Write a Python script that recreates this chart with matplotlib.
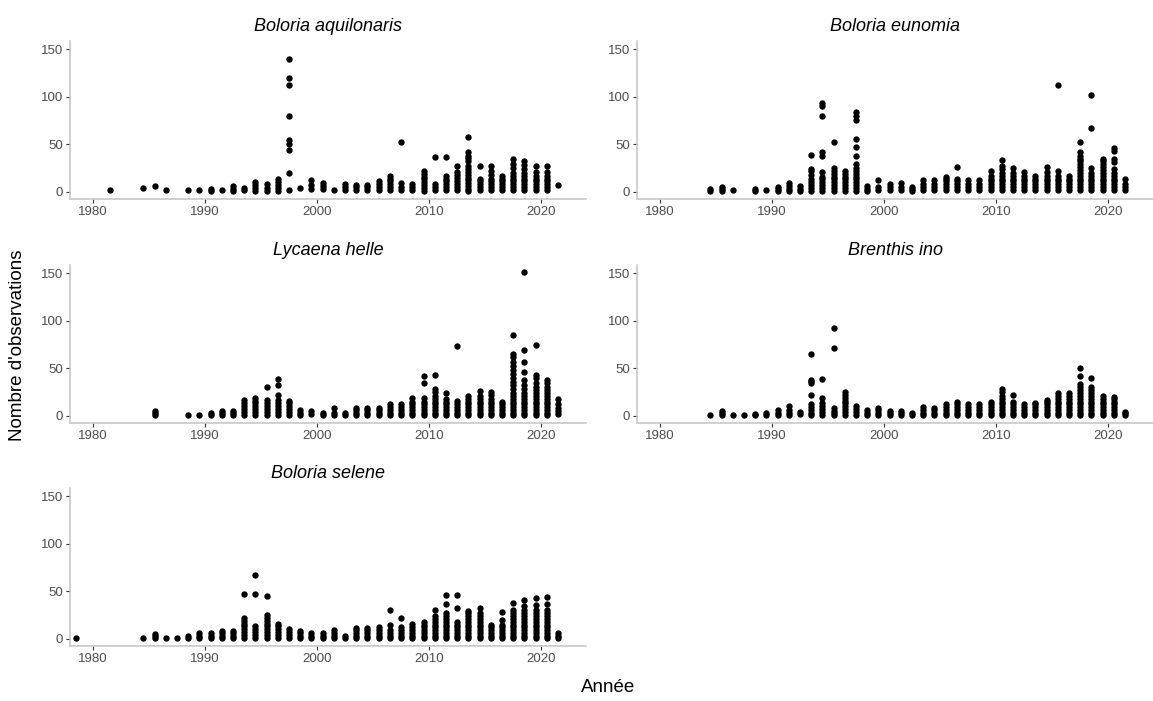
import matplotlib
matplotlib.use("Agg")
import matplotlib.pyplot as plt

plt.rcParams['font.family'] = ['Liberation Sans', 'DejaVu Sans']

# observations par année
aquilonaris = {
    1981: [2], 1984: [4], 1985: [6], 1986: [2], 1988: [2], 1989: [2],
    1990: [1, 3], 1991: [2], 1992: [1, 3, 6], 1993: [2, 4],
    1994: [1, 4, 7, 10], 1995: [1, 4, 8], 1996: [1, 4, 7, 10, 13],
    1997: [2, 20, 44, 50, 55, 80, 112, 120, 140], 1998: [4],
    1999: [3, 7, 12], 2000: [3, 6, 9], 2001: [2], 2002: [2, 5, 8],
    2003: [2, 5, 7], 2004: [2, 5, 7], 2005: [2, 5, 8, 11],
    2006: [2, 5, 8, 11, 14, 17], 2007: [2, 5, 9, 52], 2008: [2, 5, 8],
    2009: [1, 4, 7, 10, 13, 16, 19, 22], 2010: [2, 5, 8, 37],
    2011: [2, 5, 8, 11, 14, 17, 37], 2012: [2, 5, 8, 11, 15, 18, 21, 27],
    2013: [1, 3, 6, 9, 12, 15, 18, 21, 24, 27, 32, 36, 38, 42, 58],
    2014: [2, 5, 8, 11, 13, 27], 2015: [2, 5, 8, 11, 14, 18, 22, 27],
    2016: [2, 5, 8, 11, 14, 17], 2017: [2, 5, 8, 11, 14, 17, 20, 25, 29, 34],
    2018: [2, 5, 8, 11, 14, 17, 20, 24, 28, 32],
    2019: [2, 5, 8, 11, 14, 17, 21, 27], 2020: [2, 5, 8, 11, 14, 17, 21, 27],
    2021: [7],
}

eunomia = {
    1984: [1, 3], 1985: [1, 3, 5], 1986: [2], 1988: [1, 3], 1989: [2],
    1990: [1, 3, 5], 1991: [1, 3, 6, 9], 1992: [1, 3, 6],
    1993: [1, 4, 7, 10, 13, 18, 22, 24, 39],
    1994: [1, 4, 7, 10, 13, 16, 21, 38, 42, 80, 90, 93],
    1995: [1, 4, 7, 10, 13, 16, 19, 22, 25, 52],
    1996: [1, 4, 7, 10, 13, 16, 19, 22],
    1997: [1, 4, 7, 10, 13, 16, 19, 22, 25, 29, 38, 47, 56, 76, 80, 84],
    1998: [1, 3, 6], 1999: [2, 5, 12], 2000: [2, 5, 8], 2001: [2, 5, 9],
    2002: [1, 3, 5], 2003: [2, 5, 8, 12], 2004: [2, 5, 8, 12],
    2005: [2, 5, 8, 11, 14, 16], 2006: [2, 5, 8, 11, 14, 26],
    2007: [2, 5, 8, 12], 2008: [2, 5, 8, 12],
    2009: [2, 5, 8, 11, 14, 17, 22],
    2010: [2, 5, 8, 11, 14, 17, 20, 24, 27, 33],
    2011: [2, 5, 8, 11, 14, 17, 20, 25], 2012: [2, 5, 8, 11, 14, 17, 21],
    2013: [2, 5, 8, 11, 14, 17], 2014: [2, 5, 8, 11, 14, 17, 21, 26],
    2015: [2, 5, 8, 11, 14, 17, 22, 112], 2016: [2, 5, 8, 11, 14, 17],
    2017: [2, 5, 8, 11, 14, 17, 20, 23, 26, 29, 32, 35, 38, 42, 52],
    2018: [2, 5, 8, 11, 14, 17, 20, 25, 67, 102],
    2019: [2, 5, 8, 11, 14, 17, 20, 23, 26, 29, 32, 35],
    2020: [2, 5, 8, 11, 14, 17, 20, 24, 31, 34, 43, 46],
    2021: [2, 5, 8, 13],
}

helle = {
    1985: [1, 3, 5], 1988: [1], 1989: [1], 1990: [1, 3], 1991: [1, 3, 5],
    1992: [1, 3, 5], 1993: [1, 4, 7, 10, 13, 17],
    1994: [1, 4, 7, 10, 13, 16, 19], 1995: [1, 4, 7, 10, 13, 17, 30],
    1996: [1, 4, 7, 10, 13, 17, 22, 32, 39], 1997: [1, 4, 7, 10, 13, 16],
    1998: [1, 3, 6], 1999: [2, 5], 2000: [1, 3], 2001: [1, 3, 8],
    2002: [1, 3], 2003: [1, 3, 6, 8], 2004: [1, 3, 6, 8], 2005: [1, 3, 6, 8],
    2006: [1, 3, 6, 9, 12], 2007: [1, 3, 6, 9, 12],
    2008: [1, 3, 6, 9, 12, 15, 19],
    2009: [1, 3, 6, 9, 12, 15, 19, 34, 42],
    2010: [1, 3, 6, 9, 12, 15, 18, 21, 25, 28, 43],
    2011: [1, 3, 6, 9, 12, 15, 18, 24], 2012: [1, 3, 6, 9, 12, 16, 73],
    2013: [1, 3, 6, 9, 12, 15, 18, 21], 2014: [1, 3, 6, 9, 12, 15, 18, 21, 26],
    2015: [1, 3, 6, 9, 12, 15, 18, 22, 25], 2016: [1, 3, 6, 9, 12, 15],
    2017: [1, 3, 6, 9, 12, 15, 18, 21, 24, 28, 32, 36, 40, 44, 48, 52, 57, 62, 65, 85],
    2018: [1, 3, 6, 9, 12, 15, 18, 21, 24, 28, 32, 38, 46, 57, 69, 151],
    2019: [1, 3, 6, 9, 12, 15, 18, 21, 24, 27, 30, 34, 40, 43, 74],
    2020: [1, 3, 6, 9, 12, 15, 18, 21, 24, 27, 30, 34, 38],
    2021: [2, 5, 8, 12, 18],
}

ino = {
    1984: [1], 1985: [1, 3, 5], 1986: [1], 1987: [1], 1988: [1, 2],
    1989: [1, 3], 1990: [1, 3, 6], 1991: [1, 3, 6, 10], 1992: [2, 4],
    1993: [1, 3, 6, 9, 12, 22, 35, 37, 38, 65],
    1994: [1, 4, 7, 10, 13, 19, 39], 1995: [1, 3, 5, 8, 71, 92],
    1996: [1, 4, 7, 10, 13, 16, 19, 22, 25], 1997: [1, 4, 7, 10],
    1998: [1, 3, 6], 1999: [1, 3, 6, 8], 2000: [1, 3, 5], 2001: [1, 3, 5],
    2002: [1, 3], 2003: [1, 3, 6, 9], 2004: [1, 3, 6, 8],
    2005: [1, 3, 6, 9, 12], 2006: [1, 3, 6, 9, 12, 15],
    2007: [1, 3, 6, 9, 12], 2008: [1, 3, 6, 9, 12],
    2009: [1, 3, 6, 9, 12, 15],
    2010: [1, 3, 6, 9, 12, 15, 18, 21, 25, 28],
    2011: [1, 3, 6, 9, 12, 15, 22], 2012: [1, 3, 6, 9, 12],
    2013: [1, 3, 6, 9, 12, 14], 2014: [1, 3, 6, 9, 12, 15, 17],
    2015: [1, 3, 6, 9, 12, 15, 18, 21, 24],
    2016: [1, 3, 6, 9, 12, 15, 18, 21, 24],
    2017: [1, 3, 6, 9, 12, 15, 18, 21, 24, 27, 30, 33, 42, 50],
    2018: [1, 3, 6, 9, 12, 15, 18, 21, 24, 27, 30, 40],
    2019: [1, 3, 6, 9, 12, 15, 18, 21], 2020: [1, 3, 6, 9, 12, 15, 18, 20],
    2021: [1, 3, 4],
}

selene = {
    1978: [1], 1984: [1], 1985: [1, 3, 5], 1986: [1], 1987: [1],
    1988: [1, 3], 1989: [1, 3, 6], 1990: [1, 3, 6], 1991: [1, 3, 6, 8],
    1992: [1, 3, 6, 8], 1993: [1, 4, 7, 10, 13, 16, 19, 22, 47],
    1994: [1, 4, 7, 10, 13, 47, 67],
    1995: [1, 4, 7, 10, 13, 16, 19, 22, 25, 45],
    1996: [1, 4, 7, 10, 13, 16], 1997: [1, 4, 7, 10], 1998: [1, 3, 6, 8],
    1999: [1, 3, 6], 2000: [1, 3, 6], 2001: [1, 3, 6, 9], 2002: [1, 3],
    2003: [1, 3, 6, 9, 11], 2004: [1, 3, 6, 9, 11], 2005: [1, 3, 6, 9, 12],
    2006: [1, 3, 6, 9, 15, 30], 2007: [1, 3, 6, 9, 12, 22],
    2008: [1, 3, 6, 9, 12, 16], 2009: [1, 3, 6, 9, 12, 15, 18],
    2010: [1, 3, 6, 9, 12, 15, 18, 21, 24, 30],
    2011: [1, 3, 6, 9, 12, 15, 18, 21, 24, 27, 37, 46],
    2012: [1, 3, 6, 9, 12, 15, 18, 32, 46],
    2013: [1, 3, 6, 9, 12, 15, 18, 21, 24, 27, 29],
    2014: [1, 3, 6, 9, 12, 15, 18, 21, 24, 27, 32],
    2015: [1, 3, 6, 9, 12, 15], 2016: [1, 3, 6, 9, 12, 15, 20, 28],
    2017: [1, 3, 6, 9, 12, 15, 18, 21, 24, 27, 30, 38],
    2018: [1, 3, 6, 9, 12, 15, 18, 21, 24, 27, 30, 35, 41],
    2019: [1, 3, 6, 9, 12, 15, 18, 21, 24, 27, 30, 36, 43],
    2020: [1, 3, 6, 9, 12, 15, 18, 21, 24, 27, 30, 37, 44],
    2021: [1, 3, 6],
}

species = ["Boloria aquilonaris", "Boloria eunomia", "Lycaena helle",
           "Brenthis ino", "Boloria selene"]
datasets = [aquilonaris, eunomia, helle, ino, selene]

W, H = 1153, 701
fig = plt.figure(figsize=(W / 100, H / 100), dpi=100)

# panel positions in pixels (left, bottom-of-axis-line)
lefts = [70, 637, 70, 637, 70]
bottoms = [199, 199, 423, 423, 646]
pw, ph = 516, 158

for name, d, l, b in zip(species, datasets, lefts, bottoms):
    ax = fig.add_axes([l / W, 1 - b / H, pw / W, ph / H])
    xs, ys = [], []
    for yr, vals in d.items():
        for v in vals:
            xs.append(yr + 0.5)
            ys.append(v)
    ax.scatter(xs, ys, s=21, color='black', linewidths=0, zorder=3)
    ax.set_xlim(1977.95, 2024.0)
    ax.set_ylim(-7.55, 158.55)
    ax.set_xticks([1980, 1990, 2000, 2010, 2020])
    ax.set_yticks([0, 50, 100, 150])
    for side in ['top', 'right']:
        ax.spines[side].set_visible(False)
    for side in ['left', 'bottom']:
        ax.spines[side].set_color('#c4c4c4')
        ax.spines[side].set_linewidth(1.1)
    ax.tick_params(colors='#333333', labelcolor='#4d4d4d', labelsize=9.5,
                   length=3, width=0.8, pad=2)
    ax.set_title(name, fontstyle='italic', fontsize=13, pad=7, color='black')

fig.text(18 / W, 1 - 345 / H, "Nombre d'observations", rotation=90,
         ha='center', va='center', fontsize=13.5)
fig.text(608 / W, 1 - 688 / H, "Année", ha='center', va='center', fontsize=13.5)

fig.savefig("out.png", dpi=100)
